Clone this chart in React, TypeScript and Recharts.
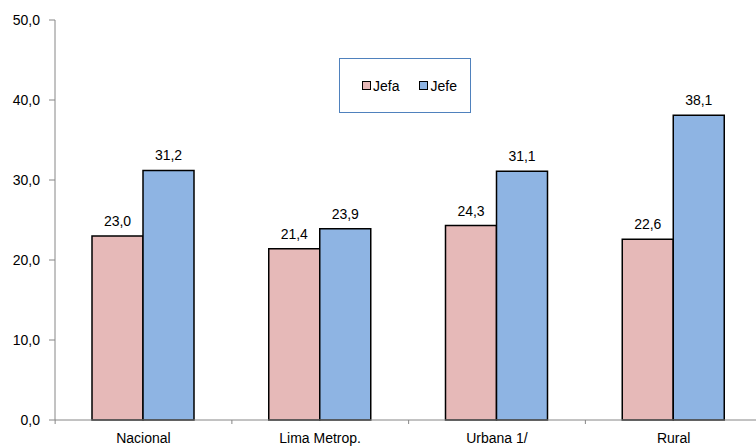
import { BarChart, Bar, XAxis, YAxis, LabelList } from 'recharts';

const categories = ['Nacional', 'Lima Metrop.', 'Urbana 1/', 'Rural'];
const jefa = [23.0, 21.4, 24.3, 22.6];
const jefe = [31.2, 23.9, 31.1, 38.1];
const yTicks = [0, 10, 20, 30, 40, 50];

const data = categories.map((name, i) => ({ name, jefa: jefa[i], jefe: jefe[i] }));

const FONT = '"Liberation Sans", Arial, sans-serif';
const FS = 14;
const fmt = (v: number) => v.toFixed(1).replace('.', ',');

const BAND = 176.5;

const XTick = (props: any) => {
  const { x, y, payload } = props;
  return (
    <g>
      <line x1={x - BAND / 2} y1={y - 8} x2={x - BAND / 2} y2={y - 4} stroke="#868686" />
      <text x={x} y={y + 15} textAnchor="middle" fontSize={FS} fontFamily={FONT} fill="#000">
        {payload.value}
      </text>
    </g>
  );
};

const LegendBox = () => (
  <div
    style={{
      position: 'absolute',
      left: 339,
      top: 58,
      width: 132,
      height: 55,
      border: '1px solid #4F81BD',
      background: '#fff',
      display: 'flex',
      alignItems: 'center',
      paddingLeft: 22,
      gap: 20,
      fontFamily: FONT,
      fontSize: FS,
      boxSizing: 'border-box',
    }}
  >
    {[['Jefa', '#E6B9B8'], ['Jefe', '#8EB4E3']].map(([n, c]) => (
      <span key={n} style={{ display: 'flex', alignItems: 'center', gap: 2 }}>
        <span style={{ width: 7, height: 7, background: c, border: '1px solid #000', display: 'inline-block' }} />
        {n}
      </span>
    ))}
  </div>
);

export default function App() {
  return (
    <div style={{ position: 'absolute', left: 0, top: 0, width: 756, height: 448, overflow: 'hidden', background: '#fff' }}>
      <BarChart
        width={762}
        height={448}
        data={data}
        margin={{ top: 20, right: 0, left: 0, bottom: 0 }}
        barCategoryGap={37}
        barGap={0}
      >
        <YAxis
          domain={[0, 50]}
          ticks={yTicks}
          tickFormatter={fmt}
          width={55}
          axisLine={{ stroke: '#868686' }}
          tickLine={{ stroke: '#868686' }}
          tickSize={6}
          tickMargin={9}
          tick={{ fill: '#000', fontSize: FS, fontFamily: FONT }}
          interval={0}
        />
        <XAxis
          dataKey="name"
          height={28}
          axisLine={{ stroke: '#868686' }}
          tickLine={false}
          tick={<XTick />}
          interval={0}
        />
        <Bar dataKey="jefa" fill="#E6B9B8" stroke="#000" strokeWidth={1.5} isAnimationActive={false}>
          <LabelList dataKey="jefa" position="top" offset={10} formatter={fmt} fill="#000" fontSize={FS} fontFamily={FONT} />
        </Bar>
        <Bar dataKey="jefe" fill="#8EB4E3" stroke="#000" strokeWidth={1.5} isAnimationActive={false}>
          <LabelList dataKey="jefe" position="top" offset={10} formatter={fmt} fill="#000" fontSize={FS} fontFamily={FONT} />
        </Bar>
      </BarChart>
      <LegendBox />
    </div>
  );
}
